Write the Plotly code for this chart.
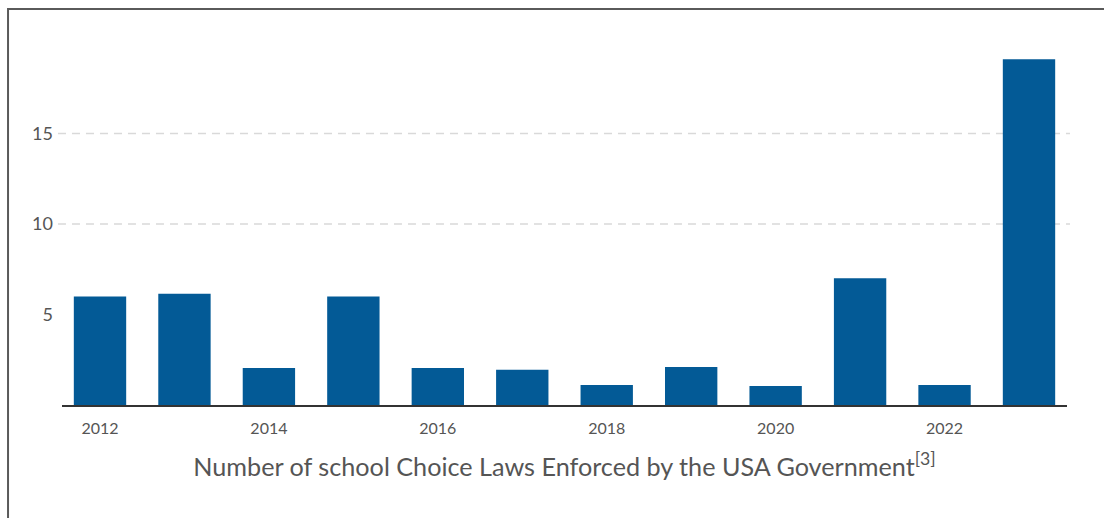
import plotly.graph_objects as go

# Yearly counts of school choice laws
years = [2012, 2013, 2014, 2015, 2016, 2017, 2018, 2019, 2020, 2021, 2022, 2023]
laws = [6.0, 6.15, 2.05, 6.0, 2.05, 1.95, 1.1, 2.1, 1.05, 7.0, 1.1, 19.1]

x_ticks = [2012, 2014, 2016, 2018, 2020, 2022]
y_ticks = [5, 10, 15]
grid_values = [10, 15]

bar_color = "#035A96"
text_color = "#555555"
font_family = "Lato, 'Open Sans', sans-serif"

fig = go.Figure(
    go.Bar(x=years, y=laws, marker=dict(color=bar_color, line=dict(width=0)), width=0.62)
)

# dashed guide lines, drawn slightly wider than the plot area
for g in grid_values:
    fig.add_shape(
        type="line", xref="paper", yref="y",
        x0=-0.004, x1=1.003, y0=g, y1=g,
        line=dict(color="#d9d9d9", width=1.5, dash="8px,6px"),
        layer="below",
    )

# frame around the card (left and top edges visible)
fig.add_shape(
    type="rect", xref="paper", yref="paper",
    x0=-0.0537, x1=1.2, y0=-0.5, y1=1.094,
    line=dict(color="#5a5a5a", width=2),
    fillcolor="rgba(0,0,0,0)",
)

fig.update_layout(
    width=1104, height=518,
    margin=dict(l=62, r=37, t=43, b=113),
    paper_bgcolor="white", plot_bgcolor="white",
    showlegend=False,
    font=dict(family=font_family, color=text_color),
)

fig.update_xaxes(
    range=[2011.55, 2023.45],
    tickmode="array", tickvals=x_ticks, ticktext=[str(t) for t in x_ticks],
    tickfont=dict(size=16, color=text_color),
    showgrid=False, zeroline=False,
    showline=True, linecolor="#333333", linewidth=2,
    ticks="", ticklabelstandoff=8,
    title=dict(
        text="Number of school Choice Laws Enforced by the USA Government<sup>[3]</sup>",
        font=dict(size=25.2, color=text_color),
        standoff=22,
    ),
)

fig.update_yaxes(
    range=[0, 20],
    tickmode="array", tickvals=y_ticks, ticktext=[str(t) for t in y_ticks],
    tickfont=dict(size=18, color=text_color),
    showgrid=False, zeroline=False, showline=False,
    ticks="", ticklabelstandoff=8,
)

fig.write_html("out.html")
